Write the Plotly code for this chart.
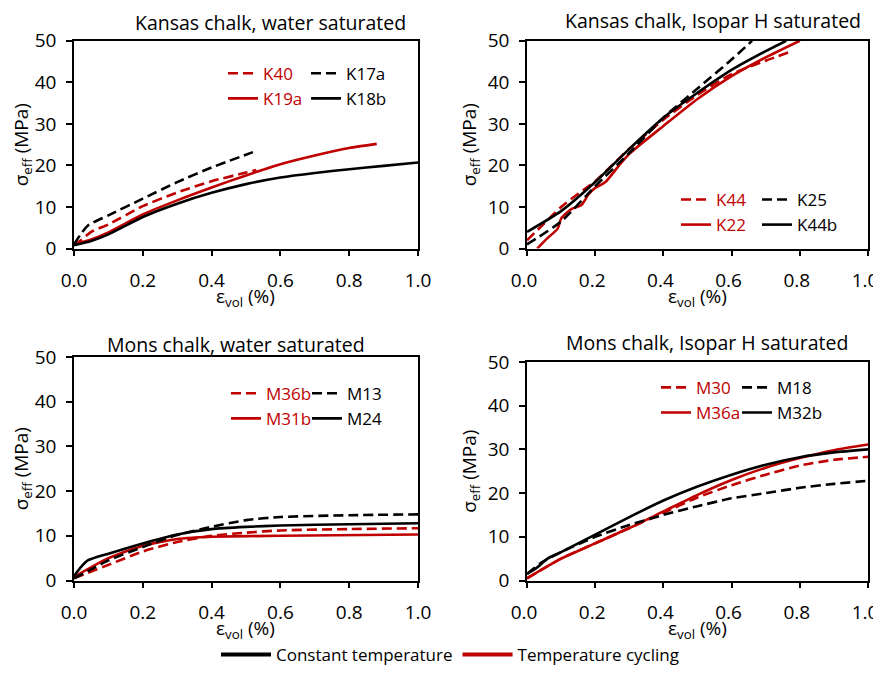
import plotly.graph_objects as go

RED = '#c00000'
BLACK = '#000000'

# Kansas chalk, water saturated
k40_x = [0.0, 0.02, 0.05, 0.1, 0.2, 0.3, 0.4, 0.5, 0.53]
k40_y = [0.8, 2.0, 4.0, 5.8, 10.2, 13.5, 16.2, 18.3, 18.9]
k17a_x = [0.0, 0.02, 0.04, 0.1, 0.2, 0.3, 0.4, 0.52]
k17a_y = [1.0, 3.5, 5.5, 8.0, 12.0, 16.0, 19.5, 23.2]
k19a_x = [0.0, 0.05, 0.1, 0.2, 0.3, 0.4, 0.5, 0.6, 0.7, 0.8, 0.88]
k19a_y = [1.0, 2.2, 3.9, 8.2, 11.6, 14.7, 17.6, 20.3, 22.4, 24.2, 25.2]
k18b_x = [0.0, 0.05, 0.1, 0.2, 0.3, 0.4, 0.5, 0.6, 0.7, 0.8, 0.9, 1.0]
k18b_y = [0.8, 1.8, 3.4, 7.6, 10.8, 13.4, 15.5, 17.1, 18.2, 19.1, 19.9, 20.7]

# Kansas chalk, Isopar H saturated
k44_x = [0.0, 0.05, 0.1, 0.15, 0.2, 0.3, 0.4, 0.5, 0.6, 0.7, 0.77]
k44_y = [2.0, 6.0, 10.0, 13.2, 16.2, 24.0, 31.0, 37.0, 42.0, 45.2, 47.3]
k25_x = [0.0, 0.1, 0.2, 0.3, 0.4, 0.5, 0.6, 0.66]
k25_y = [1.0, 6.5, 15.0, 23.0, 31.5, 38.5, 45.5, 50.0]
k22_x = [0.03, 0.06, 0.09, 0.1, 0.13, 0.16, 0.18, 0.2, 0.23, 0.27, 0.3, 0.4, 0.5, 0.6, 0.7, 0.8]
k22_y = [0.0, 2.5, 4.8, 7.2, 9.5, 10.5, 13.0, 14.6, 16.0, 20.0, 22.8, 29.5, 36.0, 41.5, 46.0, 50.0]
k44b_x = [0.0, 0.1, 0.2, 0.3, 0.4, 0.5, 0.6, 0.7, 0.76]
k44b_y = [4.0, 9.0, 16.0, 24.0, 31.5, 37.5, 43.0, 47.5, 50.0]

# Mons chalk, water saturated
m36b_x = [0.0, 0.1, 0.2, 0.3, 0.4, 0.5, 0.6, 0.8, 1.0]
m36b_y = [0.5, 3.5, 6.5, 8.6, 10.0, 10.7, 11.2, 11.5, 11.7]
m13_x = [0.0, 0.05, 0.1, 0.2, 0.3, 0.4, 0.5, 0.6, 0.8, 1.0]
m13_y = [0.5, 2.5, 4.5, 7.5, 10.2, 12.0, 13.5, 14.2, 14.6, 14.8]
m31b_x = [0.0, 0.1, 0.2, 0.3, 0.35, 0.4, 0.6, 1.0]
m31b_y = [0.8, 5.0, 7.8, 9.3, 9.6, 9.8, 10.0, 10.3]
m24_x = [0.0, 0.02, 0.04, 0.1, 0.2, 0.3, 0.4, 0.5, 0.6, 0.8, 1.0]
m24_y = [1.0, 3.0, 4.5, 6.0, 8.3, 10.3, 11.5, 12.0, 12.3, 12.6, 12.8]

# Mons chalk, Isopar H saturated
m30_x = [0.0, 0.1, 0.2, 0.3, 0.4, 0.5, 0.6, 0.7, 0.8, 0.9, 1.0]
m30_y = [0.5, 5.0, 8.5, 12.0, 15.5, 19.0, 21.8, 24.2, 26.3, 27.6, 28.3]
m18_x = [0.0, 0.04, 0.1, 0.2, 0.3, 0.4, 0.5, 0.6, 0.7, 0.8, 0.9, 1.0]
m18_y = [1.5, 4.0, 6.5, 10.0, 12.7, 15.0, 17.0, 18.8, 20.0, 21.2, 22.1, 22.8]
m36a_x = [0.0, 0.1, 0.2, 0.3, 0.4, 0.5, 0.6, 0.7, 0.8, 0.9, 1.0]
m36a_y = [0.5, 5.0, 8.5, 12.0, 15.8, 19.6, 23.0, 25.8, 28.0, 29.8, 31.1]
m32b_x = [0.0, 0.03, 0.06, 0.1, 0.2, 0.3, 0.4, 0.5, 0.6, 0.7, 0.8, 0.9, 1.0]
m32b_y = [1.5, 3.0, 5.0, 6.5, 10.5, 14.5, 18.3, 21.5, 24.2, 26.5, 28.2, 29.3, 30.0]

titles = ['Kansas chalk, water saturated', 'Kansas chalk, Isopar H saturated',
          'Mons chalk, water saturated', 'Mons chalk, Isopar H saturated']

FONT = 'Open Sans'
# the page body has an 8px margin, so the figure is a bit smaller than the window
OFF = 8
W, H = 881 - OFF, 673 - OFF


def fx(px):
    return (px - OFF) / W


def fy(py):
    return 1 - (py - OFF) / H


# (name, x, y, colour, dash, subplot index, legend)
series = [
    ('K40', k40_x, k40_y, RED, 'dash', 1, 'legend2'),
    ('K19a', k19a_x, k19a_y, RED, 'solid', 1, 'legend2'),
    ('K17a', k17a_x, k17a_y, BLACK, 'dash', 1, 'legend3'),
    ('K18b', k18b_x, k18b_y, BLACK, 'solid', 1, 'legend3'),
    ('K44', k44_x, k44_y, RED, 'dash', 2, 'legend4'),
    ('K22', k22_x, k22_y, RED, 'solid', 2, 'legend4'),
    ('K25', k25_x, k25_y, BLACK, 'dash', 2, 'legend5'),
    ('K44b', k44b_x, k44b_y, BLACK, 'solid', 2, 'legend5'),
    ('M36b', m36b_x, m36b_y, RED, 'dash', 3, 'legend6'),
    ('M31b', m31b_x, m31b_y, RED, 'solid', 3, 'legend6'),
    ('M13', m13_x, m13_y, BLACK, 'dash', 3, 'legend7'),
    ('M24', m24_x, m24_y, BLACK, 'solid', 3, 'legend7'),
    ('M30', m30_x, m30_y, RED, 'dash', 4, 'legend8'),
    ('M36a', m36a_x, m36a_y, RED, 'solid', 4, 'legend8'),
    ('M18', m18_x, m18_y, BLACK, 'dash', 4, 'legend9'),
    ('M32b', m32b_x, m32b_y, BLACK, 'solid', 4, 'legend9'),
]

fig = go.Figure()
for name, x, y, col, dash, k, leg in series:
    sfx = '' if k == 1 else str(k)
    fig.add_trace(go.Scatter(
        x=x, y=y, mode='lines', name='<span style="color:%s">%s</span>' % (col, name),
        line=dict(color=col, width=2.6, dash='10px,5px' if dash == 'dash' else 'solid',
                  shape='spline', smoothing=0.6),
        xaxis='x' + sfx, yaxis='y' + sfx, legend=leg))

# dummy traces for the shared bottom legend
fig.add_trace(go.Scatter(x=[None], y=[None], mode='lines', name='Constant temperature',
                         line=dict(color=BLACK, width=4), legend='legend'))
fig.add_trace(go.Scatter(x=[None], y=[None], mode='lines', name='Temperature cycling',
                         line=dict(color=RED, width=4), legend='legend'))

# plot areas in page pixels (left, right, top, bottom)
boxes = [(74, 418, 41, 250), (527, 868, 41, 250), (74, 418, 359, 584), (527, 868, 364, 584)]

axis_common = dict(showgrid=False, zeroline=False, showline=True, linecolor='black', linewidth=1.5,
                   mirror=True, ticks='outside', ticklen=6, tickwidth=1.5, tickcolor='black',
                   automargin=False, ticklabeloverflow='allow',
                   tickfont=dict(size=19, color='black', family=FONT))
layout = dict(width=W, height=H, margin=dict(l=0, r=0, t=0, b=0),
              paper_bgcolor='white', plot_bgcolor='white',
              font=dict(family=FONT, color='black'))
annotations = []
for i, (l, r, t, b) in enumerate(boxes):
    sfx = '' if i == 0 else str(i + 1)
    # right-hand panels: nudge labels left so "1.0" stays on the page
    shift = -3 if i % 2 == 1 else 0
    layout['xaxis' + sfx] = dict(axis_common, domain=[fx(l), fx(r)], range=[0, 1], dtick=0.2,
                                 tickformat='.1f', anchor='y' + sfx,
                                 ticklabelstandoff=8, ticklabelshift=shift)
    layout['yaxis' + sfx] = dict(axis_common, domain=[fy(b), fy(t)], range=[0, 50], dtick=10,
                                 anchor='x' + sfx, ticklabelstandoff=6,
                                 title=dict(text='σ<sub>eff</sub> (MPa)', font=dict(size=19), standoff=6))
    annotations.append(dict(text='ε<sub>vol</sub> (%)', x=fx((l + r) / 2), y=fy(b + 34),
                            xref='paper', yref='paper', xanchor='center', yanchor='top',
                            borderpad=0, showarrow=False,
                            font=dict(size=19, family=FONT, color='black')))

title_pos = [(270, 23), (713, 21), (236, 347), (707, 345)]
for t, (px, py) in zip(titles, title_pos):
    annotations.append(dict(text=t, x=fx(px), y=fy(py), xref='paper', yref='paper',
                            xanchor='center', yanchor='middle', borderpad=0, showarrow=False,
                            font=dict(size=19.5, family=FONT, color='black')))
layout['annotations'] = annotations

leg_common = dict(bgcolor='rgba(0,0,0,0)', font=dict(size=17, family=FONT), xanchor='left',
                  yanchor='top', xref='paper', yref='paper', tracegroupgap=0, itemwidth=30)
# inner legends: (red text x, black text x, first row y) in page pixels
leg_pos = [(264, 347, 76), (717, 798, 203), (267, 348, 398), (697, 778, 392)]
for i, (xr, xb, yr) in enumerate(leg_pos):
    layout['legend%d' % (2 * i + 2)] = dict(leg_common, x=fx(xr - 41), y=fy(yr - 20))
    layout['legend%d' % (2 * i + 3)] = dict(leg_common, x=fx(xb - 41), y=fy(yr - 20))

layout['legend'] = dict(orientation='h', x=fx(450), xanchor='center', y=fy(659), yanchor='middle',
                        font=dict(size=17, family=FONT), bgcolor='rgba(0,0,0,0)', itemwidth=50)

fig.update_layout(**layout)
fig.write_html('out.html')
